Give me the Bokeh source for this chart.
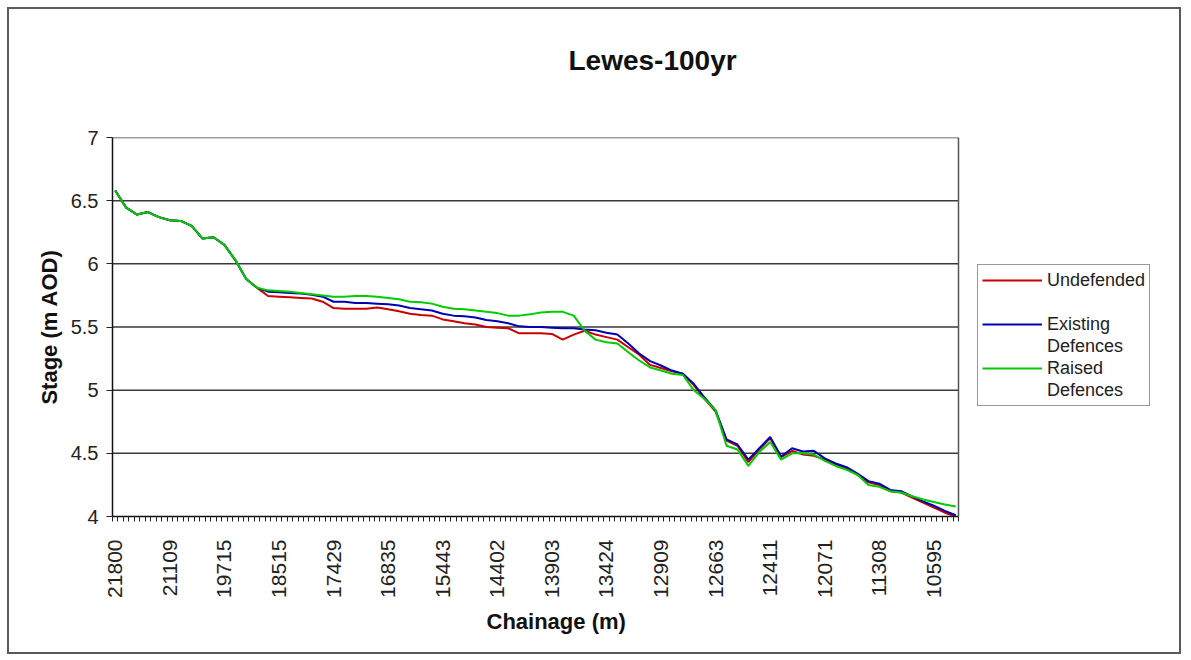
from math import pi
from bokeh.plotting import figure
from bokeh.models import (FixedTicker, NumeralTickFormatter, Range1d, Legend,
                          LegendItem, Title)
from bokeh.embed import file_html
from bokeh.resources import INLINE

# ---------------- data ----------------
label_idx = [0, 10, 20, 30, 40, 50, 60, 70, 80, 90, 100, 110, 120, 130, 140, 150]
tick_labels = ["21800", "21109", "19715", "18515", "17429", "16835", "15443", "14402",
               "13903", "13424", "12909", "12663", "12411", "12071", "11308", "10595"]
n_categories = 155

idx = [0, 2, 4, 6, 8, 10, 12, 14, 16, 18, 20, 22, 24, 26, 28, 30, 32, 34, 36, 38,
       40, 42, 44, 46, 48, 50, 52, 54, 56, 58, 60, 62, 64, 66, 68, 70, 72, 74, 76, 78,
       80, 82, 84, 86, 88, 90, 92, 94, 96, 98, 100, 102, 104, 106, 108, 110, 112, 114,
       116, 118, 120, 122, 124, 126, 128, 130, 132, 134, 136, 138, 140, 142, 144, 146,
       148, 150, 152, 154]

undefended = [6.58, 6.445, 6.39, 6.41, 6.37, 6.345, 6.34, 6.30, 6.20, 6.21, 6.15, 6.03,
              5.88, 5.81, 5.745, 5.74, 5.735, 5.73, 5.725, 5.70,
              5.65, 5.645, 5.645, 5.645, 5.655, 5.64, 5.625, 5.605, 5.595, 5.59,
              5.56, 5.545, 5.53, 5.52, 5.50, 5.495, 5.49, 5.45, 5.45, 5.45,
              5.445, 5.40, 5.44, 5.47, 5.44, 5.42, 5.40, 5.34, 5.28, 5.20,
              5.175, 5.15, 5.13, 5.04, 4.93, 4.83, 4.60, 4.56, 4.43, 4.53,
              4.62, 4.47, 4.52, 4.49, 4.48, 4.45, 4.41, 4.38, 4.33, 4.27,
              4.25, 4.20, 4.19, 4.15, 4.11, 4.07, 4.03, 4.00]

existing = [6.58, 6.445, 6.39, 6.41, 6.37, 6.345, 6.34, 6.30, 6.20, 6.21, 6.15, 6.03,
            5.88, 5.81, 5.78, 5.775, 5.77, 5.765, 5.755, 5.74,
            5.70, 5.70, 5.69, 5.69, 5.685, 5.68, 5.67, 5.65, 5.64, 5.63,
            5.605, 5.59, 5.585, 5.575, 5.555, 5.545, 5.53, 5.505, 5.50, 5.50,
            5.495, 5.49, 5.49, 5.48, 5.475, 5.455, 5.44, 5.37, 5.29, 5.23,
            5.195, 5.155, 5.13, 5.05, 4.94, 4.84, 4.61, 4.57, 4.45, 4.54,
            4.63, 4.475, 4.54, 4.515, 4.52, 4.46, 4.42, 4.39, 4.34, 4.28,
            4.26, 4.21, 4.20, 4.16, 4.12, 4.085, 4.045, 4.01]

raised = [6.58, 6.445, 6.39, 6.41, 6.37, 6.345, 6.34, 6.30, 6.20, 6.21, 6.15, 6.03,
          5.88, 5.81, 5.79, 5.785, 5.78, 5.77, 5.76, 5.75,
          5.74, 5.74, 5.745, 5.745, 5.74, 5.73, 5.72, 5.70, 5.695, 5.685,
          5.66, 5.645, 5.64, 5.63, 5.62, 5.61, 5.59, 5.59, 5.60, 5.615,
          5.62, 5.62, 5.59, 5.47, 5.40, 5.38, 5.37, 5.30, 5.235, 5.18,
          5.155, 5.13, 5.12, 5.00, 4.93, 4.84, 4.56, 4.53, 4.40, 4.51,
          4.59, 4.45, 4.50, 4.50, 4.49, 4.44, 4.40, 4.37, 4.33, 4.25,
          4.235, 4.20, 4.19, 4.16, 4.135, 4.115, 4.095, 4.08]

series_names = ["Undefended", "Existing", "Defences", "Raised"]
y_ticks = [4, 4.5, 5, 5.5, 6, 6.5, 7]
chart_title = "Lewes-100yr"
x_title = "Chainage (m)"
y_title = "Stage (m AOD)"

FONT = "Liberation Sans"

# ---------------- layout ----------------
W, H = 1174, 647
MB_LEFT, MB_RIGHT, MB_TOP, MB_BOTTOM = 103, 3, 126, 140
PLOT_PX = 846                      # width of the chart's plot area in pixels
frame_px = W - MB_LEFT - MB_RIGHT  # frame also hosts the legend area
x_lo = -0.5
x_plot_hi = n_categories - 0.5
x_hi = x_lo + n_categories * frame_px / PLOT_PX

p = figure(width=W, height=H, output_backend="svg", toolbar_location=None,
           x_range=Range1d(x_lo, x_hi), y_range=Range1d(y_ticks[0], y_ticks[-1]),
           min_border_left=MB_LEFT, min_border_right=MB_RIGHT,
           min_border_top=MB_TOP, min_border_bottom=MB_BOTTOM)
p.styles = {"border": "2px solid #5a5a5a", "margin-left": "7px", "margin-top": "7px"}
p.background_fill_color = "white"
p.border_fill_color = "white"
p.outline_line_color = None
p.title.text = ""

# titles (spacer first = nearest the frame)
p.add_layout(Title(text=" ", text_font_size="10px", standoff=12), "above")
p.add_layout(Title(text=chart_title, text_font=FONT, text_font_size="28px",
                   text_font_style="bold", text_color="#111111", align="left",
                   offset=456, vertical_align="top", standoff=70), "above")

# horizontal gridlines + plot-area right border
grid_y = y_ticks[1:]
p.segment(x0=[x_lo] * len(grid_y), y0=grid_y, x1=[x_plot_hi] * len(grid_y), y1=grid_y,
          line_color="#3a3a3a", line_width=1.5)
p.segment(x0=[x_plot_hi], y0=[y_ticks[0]], x1=[x_plot_hi], y1=[y_ticks[-1]],
          line_color="#555555", line_width=1.5)

# lines
r_red = p.line(idx, undefended, line_color="#cc0000", line_width=2)
r_blue = p.line(idx, existing, line_color="#0000b4", line_width=2)
r_green = p.line(idx, raised, line_color="#00cc00", line_width=2)
r_blank = p.line([0], [5], line_alpha=0)

# x axis
xa = p.xaxis[0]
xa.bounds = (x_lo, x_plot_hi)
xa.ticker = FixedTicker(ticks=label_idx,
                        minor_ticks=[i - 0.5 for i in range(n_categories + 1)])
xa.major_label_overrides = {i: t for i, t in zip(label_idx, tick_labels)}
xa.major_label_orientation = pi / 2
xa.major_tick_out = 0
xa.major_tick_in = 0
xa.minor_tick_out = 5
xa.minor_tick_in = 0
xa.minor_tick_line_color = "#222222"
xa.axis_line_color = "#111111"
xa.axis_line_width = 1.5
xa.major_label_standoff = 18
xa.major_label_text_font = FONT
xa.major_label_text_font_size = "21px"
xa.major_label_text_color = "#222222"

p.add_layout(Title(text=x_title, text_font=FONT, text_font_size="22px",
                   text_font_style="bold", text_color="#111111", align="left",
                   offset=374, vertical_align="top", standoff=16), "below")

# y axis
ya = p.yaxis[0]
ya.ticker = FixedTicker(ticks=y_ticks, minor_ticks=[])
ya.formatter = NumeralTickFormatter(format="0.[0]")
ya.major_tick_out = 6
ya.major_tick_in = 0
ya.major_tick_line_color = "#222222"
ya.axis_line_color = "#111111"
ya.axis_line_width = 1.5
ya.major_label_standoff = 8
ya.major_label_text_font = FONT
ya.major_label_text_font_size = "20px"
ya.major_label_text_color = "#222222"
ya.axis_label = y_title
ya.axis_label_text_font = FONT
ya.axis_label_text_font_size = "22px"
ya.axis_label_text_font_style = "bold"
ya.axis_label_text_color = "#111111"
ya.axis_label_standoff = 6

p.xgrid.grid_line_color = None
p.ygrid.grid_line_color = None

legend = Legend(items=[
    LegendItem(label=series_names[0], renderers=[r_red]),
    LegendItem(label=" ", renderers=[r_blank]),
    LegendItem(label=series_names[1], renderers=[r_blue]),
    LegendItem(label=series_names[2], renderers=[r_blank]),
    LegendItem(label=series_names[3], renderers=[r_green]),
    LegendItem(label=series_names[2], renderers=[r_blank]),
])
legend.location = (865, 110)
legend.padding = 4
legend.spacing = 0
legend.glyph_width = 60
legend.glyph_height = 22
legend.label_height = 22
legend.label_standoff = 5
legend.label_text_font = FONT
legend.label_text_font_size = "18px"
legend.label_text_color = "#222222"
legend.border_line_color = "#333333"
legend.border_line_width = 1.5
legend.background_fill_color = "white"
legend.background_fill_alpha = 1.0
p.add_layout(legend, "center")

open("out.html", "w").write(file_html(p, INLINE))
